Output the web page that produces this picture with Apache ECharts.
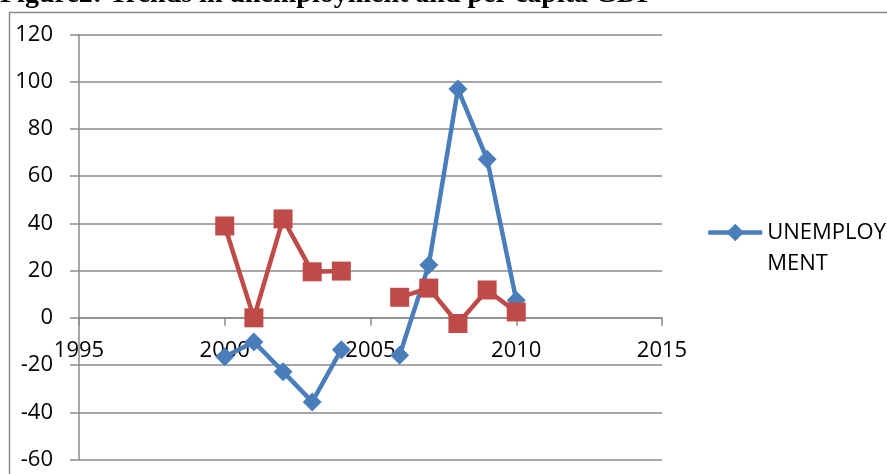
<!DOCTYPE html>
<html>
<head>
<meta charset="utf-8">
<script src="https://cdn.jsdelivr.net/npm/echarts@6/dist/echarts.min.js"></script>
<style>
html,body{margin:0;padding:0;background:#fff;}
#chart{width:887px;height:474px;}
</style>
</head>
<body>
<div id="chart"></div>
<script>
const titleText = 'Figure2: Trends in unemployment and per capita GDP';
const years = [2000, 2001, 2002, 2003, 2004, 2005, 2006, 2007, 2008, 2009, 2010];
const unemployment = [-16.5, -10.2, -22.8, -35.6, -13.5, null, -15.8, 22.4, 96.9, 67.2, 7.5];
const perCapitaGDP = [38.9, 0, 41.9, 19.5, 19.8, null, 8.7, 12.6, -2.4, 11.8, 2.5];
const xTicks = { min: 1995, max: 2015, interval: 5 };
const yTicks = { min: -60, max: 120, interval: 20 };

const toPairs = vals => years.map((y, i) => [y, vals[i]]);
const gray = '#8a8a8a';
const labelFont = { fontFamily: 'Open Sans', fontSize: 22, color: '#000' };

const chart = echarts.init(document.getElementById('chart'), null, { renderer: 'canvas' });
chart.setOption({
  animation: false,
  backgroundColor: '#fff',
  title: {
    text: titleText,
    left: 0,
    top: -19,
    padding: 0,
    textStyle: { fontFamily: 'Liberation Serif', fontWeight: 'bold', fontSize: 28, color: '#000' }
  },
  graphic: [{
    type: 'rect',
    shape: { x: 9.5, y: 12.5, width: 1000, height: 1000 },
    style: { fill: '#fff', stroke: gray, lineWidth: 1.5 },
    silent: true,
    z: -1
  }],
  legend: {
    data: ['UNEMPLOYMENT'],
    left: 706,
    top: 186,
    itemWidth: 54,
    itemHeight: 22,
    itemGap: 0,
    padding: 0,
    lineStyle: { width: 4.5 },
    formatter: () => '\nUNEMPLOY\nMENT',
    textStyle: { fontFamily: 'Open Sans', fontSize: 22, color: '#000', lineHeight: 31 }
  },
  grid: { left: 79, right: 225, top: 34.5, bottom: 14.5, containLabel: false, outerBoundsMode: 'none' },
  xAxis: {
    type: 'value',
    position: 'bottom',
    offset: 0,
    min: xTicks.min, max: xTicks.max, interval: xTicks.interval,
    axisLine: { show: true, onZero: false, lineStyle: { color: gray, width: 1.5 } },
    axisTick: { show: true, inside: false, length: 8, lineStyle: { color: gray, width: 1.5 } },
    axisLabel: Object.assign({ margin: 22, showMinLabel: true, showMaxLabel: true, formatter: v => String(v) }, labelFont),
    splitLine: { show: false }
  },
  yAxis: {
    type: 'value',
    min: yTicks.min, max: yTicks.max, interval: yTicks.interval,
    axisLine: { show: true, onZero: false, lineStyle: { color: gray, width: 1.5 } },
    axisTick: { show: true, inside: false, length: 9, lineStyle: { color: gray, width: 1.5 } },
    axisLabel: Object.assign({ margin: 26 }, labelFont),
    splitLine: { show: true, lineStyle: { color: gray, width: 1.5 } }
  },
  series: [
    {
      name: 'UNEMPLOYMENT',
      type: 'line',
      data: toPairs(unemployment),
      symbol: 'diamond',
      symbolSize: 19,
      connectNulls: false,
      lineStyle: { color: '#4A7EBB', width: 4.5 },
      itemStyle: { color: '#4A7EBB' },
      z: 3
    },
    {
      name: 'PER CAPITA GDP',
      type: 'line',
      data: toPairs(perCapitaGDP),
      symbol: 'rect',
      symbolSize: 19,
      connectNulls: false,
      lineStyle: { color: '#BE4B48', width: 4.5 },
      itemStyle: { color: '#BE4B48' },
      z: 4
    }
  ]
});
// Move the x axis (line, ticks, labels) up to the y = 0 line using the y scale.
const zeroY = chart.convertToPixel({ yAxisIndex: 0 }, 0);
const bottomY = chart.convertToPixel({ yAxisIndex: 0 }, yTicks.min);
chart.setOption({ xAxis: { offset: zeroY - bottomY } });
</script>
</body>
</html>
